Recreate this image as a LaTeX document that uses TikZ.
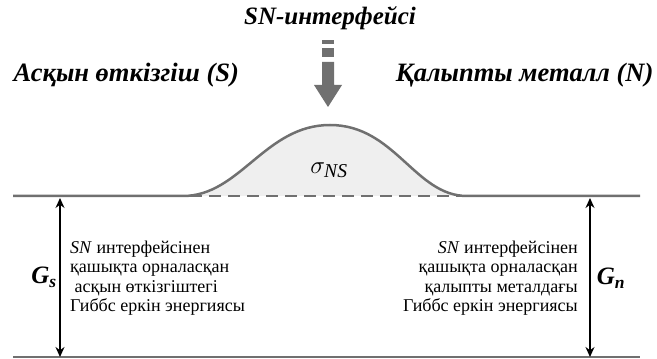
\documentclass[tikz,border=0pt]{standalone}
\usepackage{fontspec}
\setmainfont{Liberation Serif}
\usepackage{tikz}
\usetikzlibrary{arrows.meta,positioning}

\definecolor{lgray}{HTML}{707070}
\definecolor{fgray}{HTML}{EFEFEF}

\begin{document}
\begin{tikzpicture}[x=1pt, y=1pt,
  head/.style={font=\fontsize{26.5}{30}\selectfont\bfseries\itshape},
  note/.style={font=\fontsize{18}{19.5}\selectfont, inner sep=0pt},
  gsym/.style={font=\fontsize{25}{28}\selectfont\bfseries\itshape, inner sep=0pt},
  level/.style={lgray, line width=2.5pt},
  gap/.style={{Stealth[length=10pt,width=9pt]}-{Stealth[length=10pt,width=9pt]}, line width=1.4pt}]
  \useasboundingbox (0,0) rectangle (657,359);
  % Titles
  \node[head, font=\fontsize{25}{28}\selectfont\bfseries\itshape] (title) at (330,341) {SN-интерфейсі};
  \node[head, anchor=west] (sc) at (10,284) {Асқын өткізгіш (S)};
  \node[head, anchor=east] (nm) at (657,284) {Қалыпты металл (N)};
  % Down arrow
  \fill[lgray] (322,319) rectangle (334,315);
  \fill[lgray] (322,311) rectangle (334,302);
  \fill[lgray] (322,297) -- (334,297) -- (334,274) -- (342,274)
    -- (328,252) -- (314,274) -- (322,274) -- cycle;
  % Surface bump
  \fill[fgray] (183,163) .. controls (240,163) and (265,234) .. (330,234)
    .. controls (395,234) and (415,163) .. (467,163) -- cycle;
  \draw[level, dashed, dash pattern=on 12pt off 7pt] (190,163) -- (462,163);
  \draw[level, line join=round] (13,163) -- (183,163)
    .. controls (240,163) and (265,234) .. (330,234)
    .. controls (395,234) and (415,163) .. (467,163) -- (640,163);
  \draw[lgray, line width=1.2pt] (13,2) -- (640,2);
  \node (sig) at (329,189) {\fontsize{28}{30}\selectfont$\sigma_{\mathit{NS}}$};
  % Energy gaps
  \coordinate (stop) at (60,161);
  \coordinate (sbot) at (60,2);
  \coordinate (ntop) at (590,161);
  \coordinate (nbot) at (590,2);
  \draw[gap] (stop) -- (sbot);
  \draw[gap] (ntop) -- (nbot);
  \node[gsym] (gs) at (44,82) {G\textsubscript{s}};
  \node[gsym] (gn) at (611,81) {G\textsubscript{n}};
  \node[note, anchor=west, align=left] (stext) at (70,81)
    {\textit{SN} интерфейсінен\\қашықта орналасқан\\\ асқын өткізгіштегі\\Гиббс еркін энергиясы};
  \node[note, anchor=east, align=right] (ntext) at (578,81)
    {\textit{SN} интерфейсінен\\қашықта орналасқан\\қалыпты металдағы\\Гиббс еркін энергиясы};
\end{tikzpicture}
\end{document}
